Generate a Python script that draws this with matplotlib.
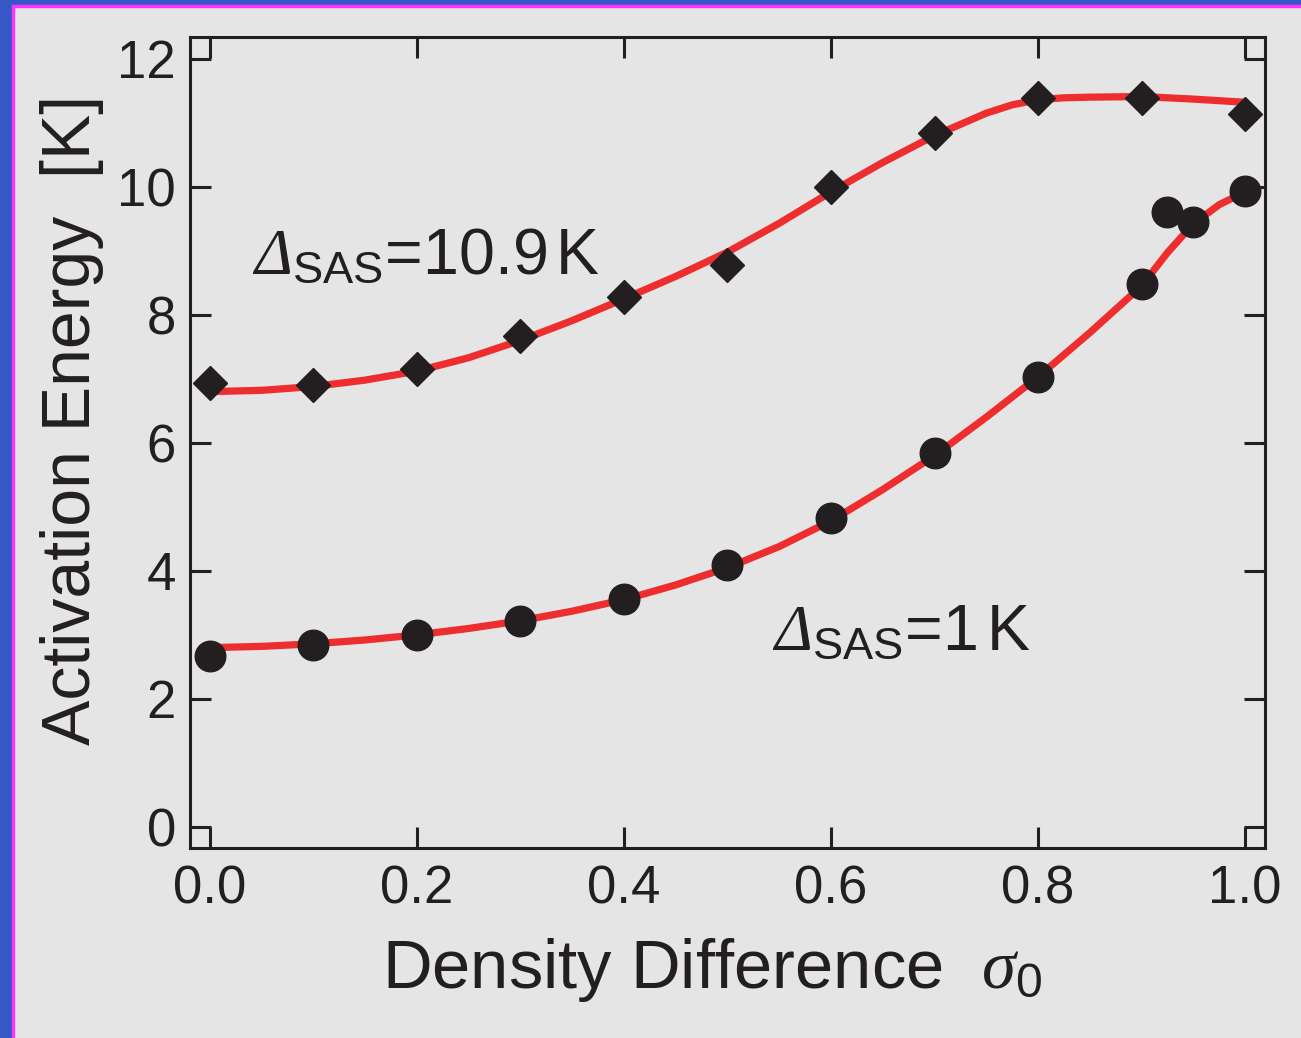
import numpy as np
import matplotlib
matplotlib.use("Agg")
import matplotlib.pyplot as plt
from matplotlib.patches import Rectangle

plt.rcParams['font.family'] = ['Liberation Sans', 'DejaVu Sans']
plt.rcParams['mathtext.fontset'] = 'custom'
plt.rcParams['mathtext.rm'] = 'Liberation Serif:italic'
plt.rcParams['mathtext.it'] = 'Liberation Serif:italic'
plt.rcParams['mathtext.sf'] = 'Liberation Sans'

# measured points
sigma_pts = [0.0, 0.1, 0.2, 0.3, 0.4, 0.5, 0.6, 0.7, 0.8, 0.9, 1.0]
E_high = [6.94, 6.91, 7.16, 7.67, 8.28, 8.78, 10.0, 10.84, 11.38, 11.38, 11.14]

sigma_low = [0.0, 0.1, 0.2, 0.3, 0.4, 0.5, 0.6, 0.7, 0.8, 0.9, 0.925, 0.95, 1.0]
E_low = [2.67, 2.84, 3.00, 3.22, 3.56, 4.09, 4.83, 5.84, 7.03, 8.48, 9.61, 9.45, 9.94]

# fitted curves
fit_x_high = [0.0, 0.05, 0.1, 0.15, 0.2, 0.25, 0.3, 0.35, 0.4, 0.45, 0.5, 0.55, 0.6,
              0.65, 0.7, 0.75, 0.775, 0.8, 0.825, 0.85, 0.9, 0.95, 1.0]
fit_y_high = [6.80, 6.82, 6.88, 6.98, 7.12, 7.33, 7.60, 7.91, 8.25, 8.60, 8.98, 9.43, 9.92,
              10.38, 10.80, 11.15, 11.28, 11.36, 11.39, 11.40, 11.41, 11.37, 11.32]

fit_x_low = [0.0, 0.05, 0.1, 0.15, 0.2, 0.25, 0.3, 0.35, 0.4, 0.45, 0.5, 0.55, 0.6,
             0.65, 0.7, 0.75, 0.8, 0.85, 0.9, 0.925, 0.95, 0.975, 1.0]
fit_y_low = [2.80, 2.82, 2.86, 2.92, 3.00, 3.10, 3.22, 3.37, 3.55, 3.78, 4.05, 4.38, 4.78,
             5.27, 5.80, 6.40, 7.03, 7.72, 8.45, 8.97, 9.42, 9.72, 9.92]

xticks = [0.0, 0.2, 0.4, 0.6, 0.8, 1.0]
yticks = [0, 2, 4, 6, 8, 10, 12]

black = '#231f20'
red = '#ee2e2e'
bg = '#e5e5e5'

fig = plt.figure(figsize=(13.01, 10.38), dpi=100, facecolor=bg)
ax = fig.add_axes([190/1301, 1-848/1038, 1075/1301, 811/1038])
ax.set_facecolor(bg)

ax.plot(fit_x_high, fit_y_high, color=red, lw=5.2, solid_capstyle='butt', zorder=2)
ax.plot(fit_x_low, fit_y_low, color=red, lw=5.2, solid_capstyle='butt', zorder=2)
ax.plot(sigma_pts, E_high, 'D', color=black, ms=17, mec=black, zorder=3)
ax.plot(sigma_low, E_low, 'o', color=black, ms=22, mec=black, zorder=3)

ax.set_xlim(-0.0193, 1.0193)
ax.set_ylim(-0.33, 12.34)
ax.set_xticks(xticks)
ax.set_xticklabels(['%.1f' % v for v in xticks])
ax.set_yticks(yticks)
ax.tick_params(direction='in', length=15, width=2.2, color=black, labelsize=38,
               labelcolor=black, top=True, right=True)
ax.tick_params(axis='x', pad=12)
ax.tick_params(axis='y', pad=10)
for s in ax.spines.values():
    s.set_linewidth(2.2)
    s.set_color(black)

ax.text(0.041, 8.63, r'$\Delta_{\mathsf{SAS}}$=10.9$\,$K', fontsize=46.5, color=black,
        va='baseline', ha='left')
ax.text(0.543, 2.77, r'$\Delta_{\mathsf{SAS}}$=1$\,$K', fontsize=46.5, color=black,
        va='baseline', ha='left')

fig.text(712/1301, 1-970/1038, r'Density Difference  $\sigma_{\mathsf{0}}$', fontsize=49.5,
         color=black, ha='center', va='center')
fig.text(72/1301, 1-420/1038, 'Activation Energy  [K]', fontsize=49, color=black,
         ha='center', va='center', rotation=90)

# frame strips at the left and top edges
fig.patches.append(Rectangle((0, 0), 12/1301, 1, transform=fig.transFigure,
                             color='#3558c6', zorder=5))
fig.patches.append(Rectangle((12/1301, 0), 2/1301, 1-5/1038, transform=fig.transFigure,
                             color='#ff33ff', zorder=5))
fig.patches.append(Rectangle((0, 1-5/1038), 1, 5/1038, transform=fig.transFigure,
                             color='#3558c6', zorder=5))
fig.patches.append(Rectangle((12/1301, 1-7/1038), 1, 2/1038, transform=fig.transFigure,
                             color='#ff33ff', zorder=5))

fig.savefig('out.png', dpi=100, facecolor=bg)
